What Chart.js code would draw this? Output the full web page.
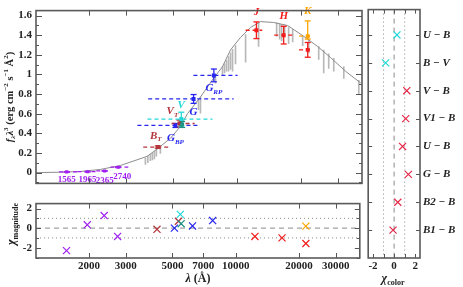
<!DOCTYPE html>
<html>
<head>
<meta charset="utf-8">
<script src="https://cdn.jsdelivr.net/npm/chart.js@4.4.1/dist/chart.umd.min.js"></script>
<style>
  body { margin: 0; background: #fff; }
  #wrap { position: relative; width: 463px; height: 287px; overflow: hidden; }
  canvas { position: absolute; }
</style>
</head>
<body>
<div id="wrap">
  <canvas id="sed" width="366" height="194" style="left:0;top:0"></canvas>
  <canvas id="chiMag" width="366" height="94" style="left:0;top:193px"></canvas>
  <canvas id="chiCol" width="101" height="287" style="left:362px;top:0"></canvas>
</div>
<script>
const SERIF = '"Liberation Serif", "Times New Roman", serif';

// model spectrum, continuum points
const modelWave = [1120, 1458, 1813, 2255, 2806, 3754, 4201, 4842, 5400, 5829, 6715, 7740, 8538, 9316, 10390, 11590, 12924, 14894, 17354, 20660, 24080, 27750, 32700, 38500];
const modelFlux = [0, 0.004, 0.011, 0.032, 0.072, 0.165, 0.242, 0.35, 0.47, 0.60, 0.77, 0.96, 1.079, 1.25, 1.377, 1.479, 1.538, 1.529, 1.498, 1.389, 1.284, 1.17, 1.03, 0.912];

// absorption lines of the model (top / bottom of each dip)
const lineWave   = [3686, 3786, 3891, 3978, 4066, 4155, 4341, 6572, 6715, 7910, 8538, 8728, 8921, 9119, 9316, 9523, 9838, 10977, 12644, 15394, 15906, 16260, 16800, 17540, 18330, 20440, 21830, 24340, 25700, 27140, 28670, 31980, 37660];
const lineTop    = [0.149, 0.167, 0.186, 0.195, 0.214, 0.233, 0.27, 0.735, 0.77, 0.986, 1.079, 1.107, 1.144, 1.181, 1.219, 1.256, 1.293, 1.405, 1.526, 1.526, 1.516, 1.507, 1.498, 1.479, 1.46, 1.395, 1.358, 1.284, 1.247, 1.209, 1.163, 1.079, 0.94];
const lineBottom = [0.084, 0.10, 0.121, 0.13, 0.14, 0.167, 0.195, 0.642, 0.605, 0.912, 0.986, 1.014, 1.033, 1.033, 1.05, 1.033, 1.107, 1.126, 1.284, 1.386, 1.358, 1.34, 1.414, 1.312, 1.33, 1.293, 1.219, 1.153, 1.014, 1.06, 1.033, 0.958, 0.80];

// photometry
const bandName    = ['1565', '1965', '2365', '2740', 'B_T', 'G_BP', 'V_T', 'V', 'V', 'G', 'G_RP', 'J', 'H', 'K', 'K'];
const bandSystem  = ['td1', 'td1', 'td1', 'td1', 'tycho', 'gaia', 'tycho', 'johnson', 'teal', 'gaia', 'gaia', 'twomass', 'twomass', 'twomass', 'kband'];
const bandWave    = [1565, 1965, 2365, 2740, 4220, 5110, 5340, 5450, 5500, 6230, 7770, 12350, 16620, 21590, 21590];
const bandFlux    = [0.007, 0.009, 0.017, 0.055, 0.26, 0.48, 0.50, 0.545, 0.49, 0.75, 0.99, 1.45, 1.40, 1.25, 1.39];
const bandErrUp   = [0.003, 0.003, 0.003, 0.004, 0.012, 0.02, 0.035, 0.07, 0.03, 0.045, 0.065, 0.085, 0.09, 0.075, 0.155];
const bandErrDown = [0.003, 0.003, 0.003, 0.004, 0.012, 0.02, 0.035, 0.07, 0.03, 0.045, 0.065, 0.085, 0.09, 0.075, 0.03];
const bandFrom    = [1440, 1760, 2160, 2520, 3600, 3380, 4900, 3770, null, 3800, 6220, 10980, 15000, 19650, 19650];
const bandTo      = [1760, 2160, 2520, 3060, 4740, 6700, 6300, 7660, null, 9640, 10060, 13160, 18620, 22770, 22770];
const bandChi     = [-2.3, 0.34, 1.28, -0.85, -0.12, 0.0, 0.7, 1.4, 0.45, 0.22, 0.77, -0.85, -1.0, -1.57, 0.2];

// colour indices
const colourName   = ['U − B', 'B − V', 'V − B', 'V1 − B', 'U − B', 'G − B', 'B2 − B', 'B1 − B'];
const colourSystem = ['johnson', 'johnson', 'geneva', 'geneva', 'geneva', 'geneva', 'geneva', 'geneva'];
const colourChi    = [0.27, -0.8, 1.2, 1.1, 0.8, 1.35, 0.35, -0.1];

// axis ticks
const lamTicks = [2000, 3000, 5000, 7000, 10000, 20000, 30000];
const fluxTicks = [0, 0.2, 0.4, 0.6, 0.8, 1, 1.2, 1.4, 1.6];
const chiTicks = [-2, 0, 2];

// styles
const systemColour = {td1: '#a020f0', tycho: '#b3343a', gaia: '#2626f0', johnson: '#22d8d8', teal: '#1d9487',
  twomass: '#f21c1c', kband: '#ffa500', geneva: '#e62a4a'};
// label offsets in pixels from the point
const labelShift = {0: [0, 8], 1: [0, 8], 2: [0, 10], 3: [4, 9], 4: [-2, -11], 5: [0, 13], 6: [-7, -12],
  7: [0, -14], 9: [0, 13], 10: [0, 13], 11: [0, -18], 12: [0, -19], 14: [0, -25]};
const tickFont = {family: SERIF, size: 11, weight: 'bold'};

function seg(ctx, x1, y1, x2, y2) {
  ctx.beginPath(); ctx.moveTo(x1, y1); ctx.lineTo(x2, y2); ctx.stroke();
}

// text with italic / sub / superscript pieces, centred at x,y
function richText(ctx, parts, x, y, colour, size) {
  const small = Math.round(size * 0.66);
  const fonts = {
    r: `bold ${size}px ${SERIF}`, i: `italic bold ${size}px ${SERIF}`,
    sub: `bold ${small}px ${SERIF}`, isub: `italic bold ${small}px ${SERIF}`, sup: `bold ${small}px ${SERIF}`
  };
  let w = 0;
  parts.forEach(([t, s]) => { ctx.font = fonts[s]; w += ctx.measureText(t).width; });
  let cx = x - w / 2;
  ctx.fillStyle = colour;
  ctx.textBaseline = 'middle';
  ctx.textAlign = 'left';
  parts.forEach(([t, s]) => {
    ctx.font = fonts[s];
    const dy = (s === 'sub' || s === 'isub') ? size * 0.3 : (s === 'sup' ? -size * 0.35 : 0);
    ctx.fillText(t, cx, y + dy);
    cx += ctx.measureText(t).width;
  });
}

function drawFrame(chart, xTicks, yTicks) {
  const {ctx, chartArea: a, scales} = chart;
  ctx.save();
  ctx.strokeStyle = '#555';
  ctx.lineWidth = 1;
  ctx.beginPath();
  xTicks.forEach(([v, len]) => {
    const p = Math.round(scales.x.getPixelForValue(v)) + 0.5;
    ctx.moveTo(p, a.top); ctx.lineTo(p, a.top + len);
    ctx.moveTo(p, a.bottom); ctx.lineTo(p, a.bottom - len);
  });
  yTicks.forEach(([v, len]) => {
    const p = Math.round(scales.y.getPixelForValue(v)) + 0.5;
    ctx.moveTo(a.left, p); ctx.lineTo(a.left + len, p);
    ctx.moveTo(a.right, p); ctx.lineTo(a.right - len, p);
  });
  ctx.stroke();
  ctx.lineWidth = 1.6;
  ctx.strokeStyle = '#5a5a5a';
  ctx.strokeRect(a.left, a.top, a.right - a.left, a.bottom - a.top);
  ctx.restore();
}

function bandParts(name) {
  if (/^\d/.test(name)) return [[name, 'r']];
  const p = name.split('_');
  return p.length > 1 ? [[p[0], 'i'], [p[1], 'isub']] : [[p[0], 'i']];
}

const sedMarks = {
  id: 'sedMarks',
  afterDatasetDraw(chart, args) {
    if (args.index !== 1) return;
    const {ctx, scales: {x, y}} = chart;
    ctx.save();
    ctx.lineWidth = 1.3;
    bandWave.forEach((w, i) => {
      ctx.strokeStyle = systemColour[bandSystem[i]];
      const px = x.getPixelForValue(w), py = y.getPixelForValue(bandFlux[i]);
      if (bandFrom[i] !== null) {
        ctx.setLineDash([4, 3]);
        seg(ctx, x.getPixelForValue(bandFrom[i]), py, x.getPixelForValue(bandTo[i]), py);
      }
      ctx.setLineDash([]);
      const t = y.getPixelForValue(bandFlux[i] + bandErrUp[i]);
      const b = y.getPixelForValue(bandFlux[i] - bandErrDown[i]);
      seg(ctx, px, t, px, b);
      seg(ctx, px - 3, t, px + 3, t);
      seg(ctx, px - 3, b, px + 3, b);
    });
    ctx.restore();
  },
  afterDraw(chart) {
    const {ctx, scales: {x, y}} = chart;
    ctx.save();
    Object.keys(labelShift).forEach(k => {
      const i = +k;
      const [dx, dy] = labelShift[k];
      const uv = bandSystem[i] === 'td1';
      richText(ctx, bandParts(bandName[i]), x.getPixelForValue(bandWave[i]) + dx,
        y.getPixelForValue(bandFlux[i]) + dy, systemColour[bandSystem[i]], uv ? 9 : 11);
    });
    ctx.translate(10, 97);
    ctx.rotate(-Math.PI / 2);
    richText(ctx, [['f', 'i'], ['λ', 'isub'], ['λ', 'i'], ['3', 'sup'], [' (erg cm', 'r'], ['−2', 'sup'],
      [' s', 'r'], ['−1', 'sup'], [' Å', 'r'], ['2', 'sup'], [')', 'r']], 0, 0, '#222', 10.5);
    ctx.restore();
    const minor = [];
    for (let v = -0.1; v < 1.65; v += 0.2) minor.push([v, 3]);
    drawFrame(chart, lamTicks.map(v => [v, 5]), fluxTicks.map(v => [v, 6]).concat(minor));
  }
};

new Chart(document.getElementById('sed'), {
  type: 'line',
  data: {
    datasets: [
      {
        type: 'scatter',
        data: bandWave.map((w, i) => ({x: w, y: bandFlux[i]})),
        pointStyle: 'rect',
        pointRadius: bandSystem.map(s => s === 'td1' ? 2.2 : 2.8),
        pointBackgroundColor: bandSystem.map(s => systemColour[s]),
        pointBorderColor: bandSystem.map(s => systemColour[s]),
        pointBorderWidth: 0
      },
      {
        type: 'line',
        data: modelWave.map((w, i) => ({x: w, y: modelFlux[i]})),
        borderColor: '#8c8c8c',
        borderWidth: 1,
        pointRadius: 0,
        tension: 0
      },
      {
        type: 'bar',
        data: lineWave.map((w, i) => ({x: w, y: [lineBottom[i], lineTop[i]]})),
        backgroundColor: '#b8b8b8',
        borderWidth: 0,
        barThickness: 1
      }
    ]
  },
  options: {
    responsive: false,
    animation: false,
    events: [],
    layout: {padding: {top: 3, right: 4, bottom: 1, left: 0}},
    plugins: {legend: {display: false}, tooltip: {enabled: false}},
    scales: {
      x: {type: 'logarithmic', min: 1120, max: 39000, display: false},
      y: {
        min: -0.11, max: 1.65,
        afterFit: s => { s.width = 36; },
        afterBuildTicks: s => { s.ticks = fluxTicks.map(v => ({value: v})); },
        grid: {display: false, drawTicks: false},
        border: {display: false},
        ticks: {padding: 4, color: '#222', font: tickFont, callback: v => String(v)}
      }
    }
  },
  plugins: [sedMarks]
});

const chiMarks = {
  id: 'chiMarks',
  beforeDatasetsDraw(chart) {
    const {ctx, chartArea: a, scales: {y}} = chart;
    ctx.save();
    ctx.strokeStyle = '#8a8a8a';
    ctx.lineWidth = 1;
    ctx.setLineDash([1, 3]);
    [-1, 1].forEach(v => seg(ctx, a.left, y.getPixelForValue(v), a.right, y.getPixelForValue(v)));
    ctx.setLineDash([5, 4]);
    seg(ctx, a.left, y.getPixelForValue(0), a.right, y.getPixelForValue(0));
    ctx.restore();
  },
  afterDraw(chart) {
    const {ctx} = chart;
    ctx.save();
    ctx.translate(12, 31);
    ctx.rotate(-Math.PI / 2);
    richText(ctx, [['χ', 'i'], ['magnitude', 'sub']], 0, 0, '#222', 12);
    ctx.restore();
    ctx.save();
    richText(ctx, [['λ', 'i'], [' (Å)', 'r']], 198, 86, '#222', 12);
    ctx.restore();
    drawFrame(chart, lamTicks.map(v => [v, 5]), chiTicks.map(v => [v, 5]).concat([[-3, 3], [-1, 3], [1, 3]]));
  }
};

new Chart(document.getElementById('chiMag'), {
  type: 'scatter',
  data: {
    datasets: [{
      data: bandWave.map((w, i) => ({x: w, y: bandChi[i]})),
      pointStyle: 'crossRot',
      pointRadius: 5,
      pointBorderWidth: 1.2,
      pointBorderColor: bandSystem.map(s => systemColour[s])
    }]
  },
  options: {
    responsive: false,
    animation: false,
    events: [],
    layout: {padding: {top: 0, right: 4, bottom: 0, left: 0}},
    plugins: {legend: {display: false}, tooltip: {enabled: false}},
    scales: {
      x: {
        type: 'logarithmic', min: 1120, max: 39000,
        afterFit: s => { s.height = 29; },
        afterBuildTicks: s => { s.ticks = lamTicks.map(v => ({value: v})); },
        grid: {display: false, drawTicks: false},
        border: {display: false},
        ticks: {autoSkip: false, maxRotation: 0, padding: 2, color: '#222', font: tickFont, callback: v => String(v)}
      },
      y: {
        min: -3.05, max: 2.5,
        afterFit: s => { s.width = 36; },
        afterBuildTicks: s => { s.ticks = chiTicks.map(v => ({value: v})); },
        grid: {display: false, drawTicks: false},
        border: {display: false},
        ticks: {padding: 4, color: '#222', font: tickFont, callback: v => String(v)}
      }
    }
  },
  plugins: [chiMarks]
});

const colMarks = {
  id: 'colMarks',
  beforeDatasetsDraw(chart) {
    const {ctx, chartArea: a, scales: {x}} = chart;
    ctx.save();
    ctx.strokeStyle = '#8a8a8a';
    ctx.lineWidth = 1;
    ctx.setLineDash([1, 3]);
    [-1, 1].forEach(v => seg(ctx, x.getPixelForValue(v), a.top, x.getPixelForValue(v), a.bottom));
    ctx.setLineDash([5, 4]);
    seg(ctx, x.getPixelForValue(0), a.top, x.getPixelForValue(0), a.bottom);
    ctx.restore();
  },
  afterDraw(chart) {
    const {ctx} = chart;
    ctx.save();
    richText(ctx, [['χ', 'i'], ['color', 'sub']], 31, 279, '#222', 12);
    ctx.restore();
    drawFrame(chart, [-2, -1, 0, 1, 2].map(v => [v, 4]), colourName.map((n, i) => [i + 1, 4]));
  }
};

new Chart(document.getElementById('chiCol'), {
  type: 'scatter',
  data: {
    datasets: [{
      data: colourChi.map((c, i) => ({x: c, y: i + 1})),
      pointStyle: 'crossRot',
      pointRadius: 5,
      pointBorderWidth: 1.2,
      pointBorderColor: colourSystem.map(s => systemColour[s])
    }]
  },
  options: {
    responsive: false,
    animation: false,
    events: [],
    layout: {padding: {top: 3, right: 0, bottom: 0, left: 4}},
    plugins: {legend: {display: false}, tooltip: {enabled: false}},
    scales: {
      x: {
        min: -2.45, max: 2.45,
        afterFit: s => { s.height = 29; },
        afterBuildTicks: s => { s.ticks = chiTicks.map(v => ({value: v})); },
        grid: {display: false, drawTicks: false},
        border: {display: false},
        ticks: {padding: 2, color: '#222', font: tickFont, callback: v => String(v)}
      },
      y: {
        position: 'right', reverse: true, min: 0.09, max: 9.0,
        afterFit: s => { s.width = 43; },
        afterBuildTicks: s => { s.ticks = colourName.map((n, i) => ({value: i + 1})); },
        grid: {display: false, drawTicks: false},
        border: {display: false},
        ticks: {padding: 3, color: '#222', font: {family: SERIF, size: 11, weight: 'bold', style: 'italic'},
          callback: v => colourName[v - 1]}
      }
    }
  },
  plugins: [colMarks]
});
</script>
</body>
</html>
